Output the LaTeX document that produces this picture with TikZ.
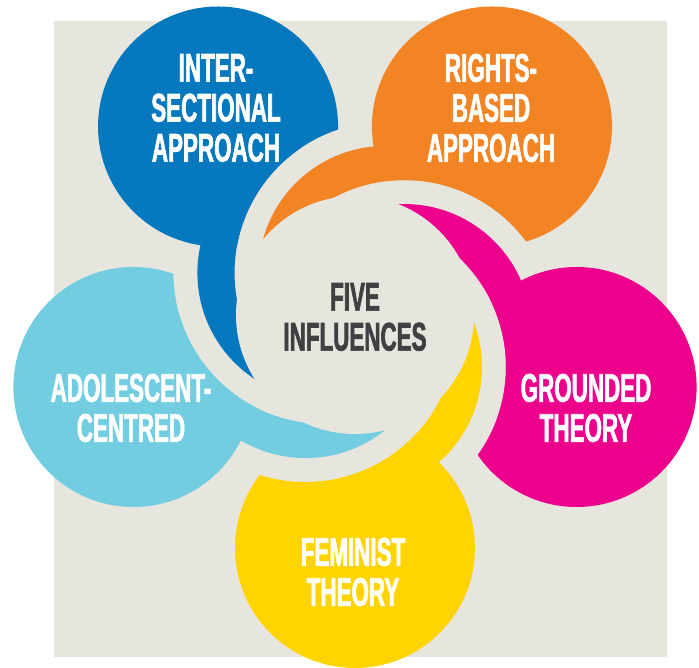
\documentclass[tikz,border=0pt]{standalone}
\usepackage{fontspec}
\newfontfamily\bubblefont[FakeStretch=0.56, FakeBold=1.5]{Liberation Sans}
\definecolor{bgbeige}{HTML}{E6E5DE}
\definecolor{blueB}{HTML}{0678BE}
\definecolor{orangeB}{HTML}{F38424}
\definecolor{pinkB}{HTML}{EC008C}
\definecolor{cyanB}{HTML}{73CDE0}
\definecolor{yellowB}{HTML}{FFD400}
\definecolor{darktext}{HTML}{404042}

\begin{document}
\begin{tikzpicture}
[
    x=1pt, y=1pt,
    label/.style={font=\bubblefont\bfseries\fontsize{40}{40}\selectfont, text=white, align=center, inner sep=0pt},
    centre/.style={label, text=darktext},
]
\useasboundingbox (-355,-353) rectangle (344,315);
\fill[bgbeige] (-301,-342) rectangle (312,294);
\foreach \ang/\col in {54/orangeB, 126/blueB, 198/cyanB, 270/yellowB, 342/pinkB}
{
    \begin{scope}[even odd rule]
        \clip (-400,-400) -- (400,-400) -- (400,400) -- (-400,400) -- cycle
            (\ang-72:52) ++(151,0) arc[start angle=0, end angle=-360, radius=151];
        \fill[\col] (\ang:233) circle (120);
        \fill[\col] (\ang:52) circle (127);
    \end{scope}
}
\fill[bgbeige] (0,0) circle (119);
\node[label] (inter) at (-139,207) {INTER-\\SECTIONAL\\APPROACH};
\node[label] (rights) at (136,207) {RIGHTS-\\BASED\\APPROACH};
\node[label] (grounded) at (231,-93) {GROUNDED\\THEORY};
\node[label] (adolescent) at (-224,-93) {ADOLESCENT-\\CENTRED};
\node[label] (feminist) at (-2,-257) {FEMINIST\\THEORY};
\node[centre] (five) at (0,-2) {FIVE\\INFLUENCES};
\end{tikzpicture}
\end{document}
